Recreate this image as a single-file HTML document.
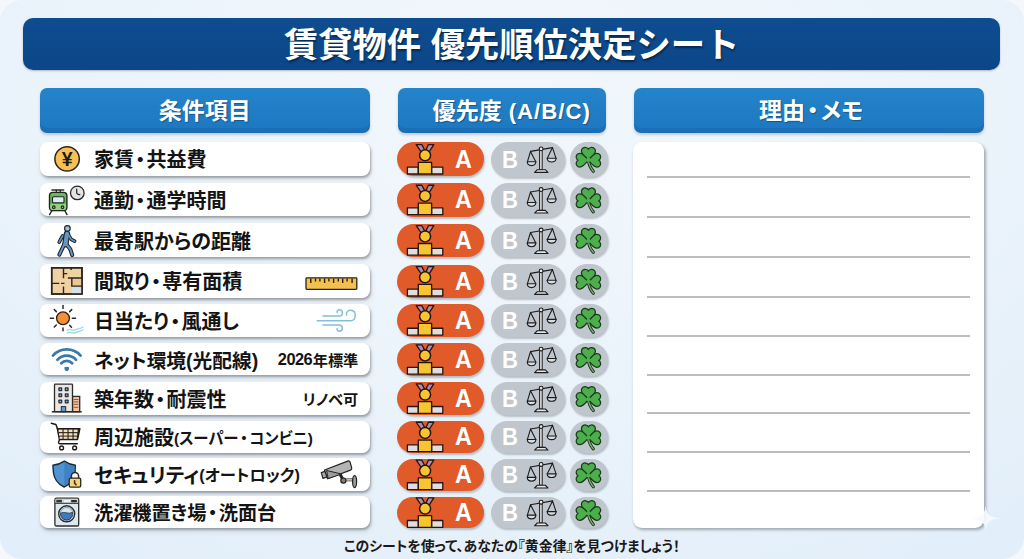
<!DOCTYPE html>
<html lang="ja">
<head>
<meta charset="utf-8">
<title>賃貸物件 優先順位決定シート</title>
<style>
*{margin:0;padding:0;box-sizing:border-box}
html,body{width:1024px;height:559px;overflow:hidden;background:#f4f7fb}
body{position:relative;font-family:"Liberation Sans","Noto Sans CJK JP",sans-serif;color:#161616}
.card{position:absolute;left:0;top:0;width:1024px;height:559px;border-radius:22px;background:radial-gradient(ellipse 80% 95% at 50% 18%,#f1f7fc 0%,#ecf4fb 50%,#e2eef9 100%)}
.title{position:absolute;left:23.3px;top:18.2px;width:976.7px;height:51.8px;border-radius:10px;background:linear-gradient(#0f4d90,#0b4688);
  box-shadow:0 1px 2px rgba(0,0,0,.25);color:#fff;font-weight:700;font-size:34.3px;line-height:55px;text-align:center;
  font-family:"Liberation Sans","Noto Sans CJK JP",sans-serif;text-shadow:1px 2px 2px rgba(0,0,0,.45)}
.hd{position:absolute;top:88px;height:44.7px;border-radius:7px;background:linear-gradient(#2484ca,#1d77c0);color:#fff;font-weight:700;
  font-size:23px;line-height:46.5px;text-align:center;font-family:"Liberation Sans","Noto Sans CJK JP",sans-serif;box-shadow:0 2px 3px rgba(0,0,0,.18),inset 0 -5px 0 rgba(0,40,100,.1);
  text-shadow:1px 1px 1px rgba(0,0,0,.3)}
.h1{left:40px;width:329.5px}
.h2{left:398px;width:208.3px;padding-left:19px;letter-spacing:0.2px}
.h3{left:633.5px;width:350px;font-feature-settings:"palt";padding-left:5px}
.row{position:absolute;left:40px;width:330.3px;border-radius:8px;background:#fff;box-shadow:1px 2px 2.5px rgba(0,0,0,.3),1px 4px 6px rgba(0,0,0,.08)}
.lbl{position:absolute;left:54px;top:0;bottom:0;display:flex;align-items:center;font-weight:700;font-size:20px;
  font-family:"Liberation Sans","Noto Sans CJK JP",sans-serif;font-feature-settings:"palt";white-space:nowrap;color:#141414}
.ex{position:absolute;right:12px;top:0;bottom:0;display:flex;align-items:center;font-weight:700;font-size:15.2px;
  font-family:"Liberation Sans","Noto Sans CJK JP",sans-serif;font-feature-settings:"palt";white-space:nowrap;color:#141414}
.pa,.pb,.pc{position:absolute;border-radius:18px;box-shadow:1px 2px 2px rgba(0,0,0,.22)}
.pa{left:397.4px;width:87px;background:#e05a2a}
.pb{left:491.4px;width:73.3px;background:#c0c6cd}
.pc{left:570.3px;width:37.5px;background:#c0c6cd}
.pa span,.pb span{position:absolute;top:0;bottom:0;display:flex;align-items:center;color:#fff;font-weight:700;
  font-family:"Liberation Sans","Noto Sans CJK JP",sans-serif}
.pa span{left:58px;font-size:25.4px;transform:scaleX(0.92);transform-origin:0 50%;top:0}
.pb span{left:11px;font-size:23.8px;transform:scaleX(0.93);transform-origin:0 50%;top:1.2px}
.memo{position:absolute;left:633px;top:142px;width:351px;height:386.2px;border-radius:9px;background:#fff;box-shadow:1.5px 2px 3px rgba(0,0,0,.3)}
.ln{position:absolute;left:14px;width:323px;height:2px;background:#bcbdbc}
.ic{position:absolute;left:0;top:0}
.foot{position:absolute;left:0;width:1024px;top:535px;text-align:center;font-size:13.9px;font-weight:700;
  font-family:"Liberation Sans","Noto Sans CJK JP",sans-serif;font-feature-settings:"palt";color:#1a1a1a}
.dt{margin:0 1.3px}
.sm{font-size:16px}
.dt2{margin:0 2.2px}
.s8{font-size:15.4px}
.s8 .dt{margin:0 1.6px}
.num{font-size:16.4px;letter-spacing:-0.5px;margin-right:0.5px}
.s9{font-size:16.3px}
.abc{letter-spacing:1px;font-size:22.2px}

</style>
</head>
<body>
<div class="card"></div>
<div class="title">賃貸物件 優先順位決定シート</div>
<div class="hd h1">条件項目</div>
<div class="hd h2">優先度 <span class="abc">(A/B/C)</span></div>
<div class="hd h3">理由<span class="dt2">・</span>メモ</div>
<div class="row" style="top:141.6px;height:34.7px"><div class="lbl" style="font-size:20px">家賃<span class="dt">・</span>共益費</div></div>
<div class="pa" style="top:142.1px;height:34.4px"><span>A</span></div><div class="pb" style="top:141.9px;height:34.7px"><span>B</span></div><div class="pc" style="top:141.9px;height:34.7px"></div>
<div class="row" style="top:182.7px;height:33.8px"><div class="lbl" style="font-size:20px">通勤<span class="dt">・</span>通学時間</div></div>
<div class="pa" style="top:183.2px;height:33.5px"><span>A</span></div><div class="pb" style="top:183.0px;height:33.8px"><span>B</span></div><div class="pc" style="top:183.0px;height:33.8px"></div>
<div class="row" style="top:223.3px;height:33.5px"><div class="lbl" style="font-size:20px">最寄駅からの距離</div></div>
<div class="pa" style="top:223.8px;height:33.2px"><span>A</span></div><div class="pb" style="top:223.6px;height:33.5px"><span>B</span></div><div class="pc" style="top:223.6px;height:33.5px"></div>
<div class="row" style="top:264.0px;height:33.9px"><div class="lbl" style="font-size:20px">間取り<span class="dt">・</span>専有面積</div></div>
<div class="pa" style="top:264.5px;height:33.6px"><span>A</span></div><div class="pb" style="top:264.3px;height:33.9px"><span>B</span></div><div class="pc" style="top:264.3px;height:33.9px"></div>
<div class="row" style="top:303.5px;height:33.0px"><div class="lbl" style="font-size:20px">日当たり<span class="dt">・</span>風通し</div></div>
<div class="pa" style="top:304.0px;height:32.7px"><span>A</span></div><div class="pb" style="top:303.8px;height:33.0px"><span>B</span></div><div class="pc" style="top:303.8px;height:33.0px"></div>
<div class="row" style="top:342.8px;height:32.7px"><div class="lbl" style="font-size:19.7px">ネット環境(光配線)</div><div class="ex"><span class="num">2026</span>年標準</div></div>
<div class="pa" style="top:343.3px;height:32.4px"><span>A</span></div><div class="pb" style="top:343.1px;height:32.7px"><span>B</span></div><div class="pc" style="top:343.1px;height:32.7px"></div>
<div class="row" style="top:381.9px;height:32.7px"><div class="lbl" style="font-size:20px">築年数<span class="dt">・</span>耐震性</div><div class="ex ex2">リノベ可</div></div>
<div class="pa" style="top:382.4px;height:32.4px"><span>A</span></div><div class="pb" style="top:382.2px;height:32.7px"><span>B</span></div><div class="pc" style="top:382.2px;height:32.7px"></div>
<div class="row" style="top:420.5px;height:32.2px"><div class="lbl" style="font-size:20px">周辺施設<span class="sm s8">(スーパー<span class="dt">・</span>コンビニ)</span></div></div>
<div class="pa" style="top:421.0px;height:31.9px"><span>A</span></div><div class="pb" style="top:420.8px;height:32.2px"><span>B</span></div><div class="pc" style="top:420.8px;height:32.2px"></div>
<div class="row" style="top:458.4px;height:32.2px"><div class="lbl" style="font-size:20px">セキュリティ<span class="sm s9">(オートロック)</span></div></div>
<div class="pa" style="top:458.9px;height:31.9px"><span>A</span></div><div class="pb" style="top:458.7px;height:32.2px"><span>B</span></div><div class="pc" style="top:458.7px;height:32.2px"></div>
<div class="row" style="top:496.3px;height:31.9px"><div class="lbl" style="font-size:19.2px">洗濯機置き場<span class="dt">・</span>洗面台</div></div>
<div class="pa" style="top:496.8px;height:31.6px"><span>A</span></div><div class="pb" style="top:496.6px;height:31.9px"><span>B</span></div><div class="pc" style="top:496.6px;height:31.9px"></div>
<div class="memo">
<div class="ln" style="top:34px"></div>
<div class="ln" style="top:74px"></div>
<div class="ln" style="top:114px"></div>
<div class="ln" style="top:154px"></div>
<div class="ln" style="top:193px"></div>
<div class="ln" style="top:232px"></div>
<div class="ln" style="top:270px"></div>
<div class="ln" style="top:309px"></div>
<div class="ln" style="top:348px"></div>
</div>
<svg class="ic" width="1024" height="559" viewBox="0 0 1024 559">
<defs>
<g id="medal" stroke="#2b1410" stroke-width="1.3" stroke-linejoin="round">
  <polygon points="416.2,144.6 421.8,144.6 424.8,150.2 421.6,152.4" fill="#a890b5"/>
  <polygon points="428.4,144.6 433.8,144.6 428.8,152.4 425.8,150.2" fill="#a890b5"/>
  <circle cx="425.1" cy="155.3" r="5.5" fill="#f6c530" stroke-width="1.5"/>
  <rect x="407.4" y="167.2" width="10.9" height="6.8" fill="#dedede"/>
  <rect x="431.6" y="167.2" width="11.2" height="6.8" fill="#dedede"/>
  <rect x="418.3" y="162.4" width="13.3" height="11.6" fill="#f6c530"/>
</g>
<g id="scale" stroke="#1c1c1c" stroke-width="1.1" fill="none" stroke-linejoin="round" stroke-linecap="round">
  <line x1="530.5" y1="151.4" x2="552.5" y2="147.6"/>
  <rect x="540" y="150.5" width="2.2" height="19.2" fill="#e2e4e7" stroke-width="1"/>
  <path d="M537.3,169.7 L545.3,169.7 L548,172.4 L534.6,172.4 Z" fill="#e2e4e7"/>
  <circle cx="541.1" cy="148.9" r="1.9" fill="#e8e8e8"/>
  <path d="M530.5,151.4 L527.4,161.8 M530.5,151.4 L535.8,161.8"/>
  <path d="M527.2,161.8 L535.9,161.8 Q535.5,165.6 531.55,165.6 Q527.6,165.6 527.2,161.8 Z" fill="#d8dbe0"/>
  <path d="M552.5,147.6 L547.3,158.3 M552.5,147.6 L556,158.3"/>
  <path d="M547.1,158.3 L556.2,158.3 Q555.8,162 551.65,162 Q547.5,162 547.1,158.3 Z" fill="#d8dbe0"/>
</g>
<g id="clover" stroke-linejoin="round">
  <path d="M588.4,160 Q589.2,166.5 593.3,171.2" fill="none" stroke="#1b3a1b" stroke-width="3.2" stroke-linecap="round"/>
  <path d="M588.4,160 Q589.2,166.5 593.3,171.2" fill="none" stroke="#7fae78" stroke-width="1.3" stroke-linecap="round"/>
  <g fill="#4cae4c" stroke="#1b3a1b" stroke-width="1.2">
    <path transform="translate(588.4,159.8) scale(1.06)" d="M0,0 C-3,-2.6 -6.6,-5 -6.6,-8.2 C-6.6,-11 -4,-12.2 -2.2,-11.6 C-1,-11.3 -0.3,-10.6 0,-9.9 C0.3,-10.6 1,-11.3 2.2,-11.6 C4,-12.2 6.6,-11 6.6,-8.2 C6.6,-5 3,-2.6 0,0 Z"/>
    <path transform="translate(588.4,160.2) rotate(-90) scale(1.04)" d="M0,0 C-3,-2.6 -6.6,-5 -6.6,-8.2 C-6.6,-11 -4,-12.2 -2.2,-11.6 C-1,-11.3 -0.3,-10.6 0,-9.9 C0.3,-10.6 1,-11.3 2.2,-11.6 C4,-12.2 6.6,-11 6.6,-8.2 C6.6,-5 3,-2.6 0,0 Z"/>
    <path transform="translate(588.4,160.2) rotate(90) scale(1.04)" d="M0,0 C-3,-2.6 -6.6,-5 -6.6,-8.2 C-6.6,-11 -4,-12.2 -2.2,-11.6 C-1,-11.3 -0.3,-10.6 0,-9.9 C0.3,-10.6 1,-11.3 2.2,-11.6 C4,-12.2 6.6,-11 6.6,-8.2 C6.6,-5 3,-2.6 0,0 Z"/>
  </g>
  <g fill="#4cae4c" stroke="none">
    <circle cx="588.4" cy="159.8" r="2.2"/>
  </g>
</g>
</defs>
<g id="yen">
  <circle cx="67.1" cy="158.9" r="12.2" fill="#f6c152" stroke="#2a2420" stroke-width="1.5"/>
  <text x="67.2" y="166.2" font-family="Liberation Sans, sans-serif" font-size="19.5" font-weight="700" text-anchor="middle" fill="#1e1a16">¥</text>
</g>
<g id="train" stroke="#1d261d" stroke-linecap="round" stroke-linejoin="round">
  <line x1="51.9" y1="189.9" x2="63.7" y2="189.9" stroke-width="1.5" stroke="#333"/>
  <line x1="56.3" y1="190" x2="56.3" y2="192.3" stroke-width="1.2"/>
  <line x1="60.2" y1="190" x2="60.2" y2="192.3" stroke-width="1.2"/>
  <line x1="51.9" y1="210.5" x2="49.6" y2="214.6" stroke-width="1.4"/>
  <line x1="64.7" y1="210.5" x2="67" y2="214.6" stroke-width="1.4"/>
  <rect x="49.5" y="192.4" width="17.4" height="18.3" rx="3.4" fill="#6cb65c" stroke-width="1.4"/>
  <rect x="50.3" y="203.5" width="15.8" height="6.5" rx="2" fill="#92d47c" stroke="none"/>
  <rect x="52.5" y="196.7" width="11.5" height="6.2" rx="1" fill="#d9edf7" stroke-width="1.1"/>
  <circle cx="53.8" cy="207.2" r="1.3" fill="#92d47c" stroke-width="1.1"/>
  <circle cx="62.5" cy="207.2" r="1.3" fill="#92d47c" stroke-width="1.1"/>
  <line x1="53.2" y1="211.6" x2="63.6" y2="211.6" stroke="#c8c8c8" stroke-width="1"/>
</g>
<g id="clock">
  <circle cx="77.3" cy="192.9" r="6.8" fill="#e4e4e4" stroke="#2a2a2a" stroke-width="1.3"/>
  <path d="M76.7,189 L76.7,192.8 Q76.9,194.7 79.8,194.7" fill="none" stroke="#222" stroke-width="1.2" stroke-linecap="round"/>
</g>
<g id="walker" fill="none" stroke-linecap="round" stroke-linejoin="round">
  <g stroke="#1c2530">
    <path d="M62.6,235.8 L59.2,242.2" stroke-width="3.6"/>
    <path d="M68.6,235.3 L71.2,239.4 L74.6,241.2" stroke-width="3.6"/>
    <path d="M64.1,244.6 L59.4,254.6" stroke-width="4"/>
    <path d="M66.6,244.6 L70.2,249 L72.2,255" stroke-width="4"/>
    <path d="M67,233.8 L65.4,244.2" stroke-width="6.4"/>
  </g>
  <g stroke="#6596bf">
    <path d="M62.6,235.8 L59.2,242.2" stroke-width="1.6"/>
    <path d="M68.6,235.3 L71.2,239.4 L74.6,241.2" stroke-width="1.6"/>
    <path d="M64.1,244.6 L59.4,254.6" stroke-width="2"/>
    <path d="M66.6,244.6 L70.2,249 L72.2,255" stroke-width="2"/>
    <path d="M67,233.8 L65.4,244.2" stroke-width="4.2"/>
  </g>
  <circle cx="67.4" cy="228.4" r="2.8" fill="#a8c4d8" stroke="#1c2530" stroke-width="1.2"/>
</g>
<g id="plan" stroke="#2a2520" stroke-width="1.4" stroke-linecap="square">
  <rect x="51.7" y="267.8" width="30.3" height="26.2" fill="#efd1a2"/>
  <rect x="71.8" y="278" width="10.2" height="8.1" fill="#ebc891" stroke="none"/>
  <rect x="71.8" y="286.1" width="10.2" height="7.9" fill="#d3e2ea" stroke="none"/>
  <rect x="51.7" y="267.8" width="30.3" height="26.2" fill="none" stroke-width="1.6"/>
  <path d="M63.5,267.8 L63.5,277.6 M63.5,273.6 L66.6,273.6 M68.6,278 L82,278 M71.8,278 L71.8,286.1 L82,286.1 M51.7,283.4 L58.6,283.4 M61.8,283.4 L63.8,283.4 M63.5,287.3 L63.5,294 M71.1,267.8 L71.1,269.3" fill="none"/>
</g>
<g id="sun">
  <g stroke="#2a2a2a" stroke-width="1.5" stroke-linecap="round">
    <line x1="63" y1="305.6" x2="63" y2="308.6"/>
    <line x1="63" y1="327.9" x2="63" y2="330.7"/>
    <line x1="50.3" y1="318.3" x2="53.5" y2="318.3"/>
    <line x1="72.4" y1="318.3" x2="75.5" y2="318.3"/>
    <line x1="54.3" y1="309.6" x2="56.3" y2="311.6"/>
    <line x1="71.7" y1="309.6" x2="69.7" y2="311.6"/>
    <line x1="54.3" y1="327" x2="56.3" y2="325"/>
    <line x1="71.5" y1="327.2" x2="69.6" y2="325.2"/>
  </g>
  <circle cx="63" cy="318.3" r="6.4" fill="#f0913a" stroke="#3a1a0a" stroke-width="1.3"/>
  <path d="M67.4,330.2 C70,327.6 72.5,331.6 75.4,329.8 C78.2,328 80.2,329.2 83,327 M67.4,333 C70,330.4 72.5,334.4 75.4,332.6 C78.2,330.8 80.2,332 83,329.8" fill="none" stroke="#9ad8e4" stroke-width="1.3" stroke-linecap="round"/>
</g>
<g id="wifi" fill="none" stroke="#3a7aab" stroke-width="2.7" stroke-linecap="round">
  <path d="M61.3,363.2 A7.5,7.5 0 0 1 72.2,363.2"/>
  <path d="M57.4,359.8 A12.6,12.6 0 0 1 76.1,359.8"/>
  <path d="M52.9,355.6 A18.7,18.7 0 0 1 80.6,355.6"/>
  <path d="M64.4,367.2 Q66.75,366.2 69.1,367.2 Q69.3,370.6 66.75,371.2 Q64.2,370.6 64.4,367.2 Z" fill="#3a7aab" stroke="none"/>
</g>
<g id="bldg" stroke="#2e2a28" stroke-width="1.3">
  <rect x="72.5" y="396.4" width="7.2" height="15.3" fill="#f2c3a2"/>
  <path d="M73.8,399.5 H78.4 M73.8,401.9 H78.4 M73.8,404.3 H78.4 M73.8,407.3 H78.4" stroke="#8a5a40" stroke-width="1"/>
  <rect x="54.5" y="384.2" width="18" height="27.5" rx="0.8" fill="#ece6de"/>
  <g fill="#25364a" stroke="none">
    <rect x="58.3" y="387.2" width="4" height="4" rx="0.8"/><rect x="64.7" y="387.2" width="4" height="4" rx="0.8"/>
    <rect x="58.3" y="393.3" width="4" height="4" rx="0.8"/><rect x="64.7" y="393.3" width="4" height="4" rx="0.8"/>
    <rect x="58.3" y="399.5" width="4" height="4" rx="0.8"/><rect x="64.7" y="399.5" width="4" height="4" rx="0.8"/>
  </g>
  <g fill="#9cc8e8" stroke="none">
    <circle cx="60.3" cy="389.2" r="0.7"/><circle cx="66.7" cy="389.2" r="0.7"/>
    <circle cx="60.3" cy="395.3" r="0.7"/><circle cx="66.7" cy="395.3" r="0.7"/>
    <circle cx="60.3" cy="401.5" r="0.7"/><circle cx="66.7" cy="401.5" r="0.7"/>
  </g>
  <rect x="61.3" y="406.6" width="4.4" height="5.1" fill="#5c9fd4" stroke-width="1"/>
  <line x1="51.8" y1="411.8" x2="81.7" y2="411.8" stroke-width="1.5"/>
</g>
<g id="cart" stroke="#1e1a18" stroke-linecap="round" stroke-linejoin="round" fill="none">
  <path d="M51.3,423.3 L55.9,424.4 L57.4,428.6" stroke-width="1.5"/>
  <path d="M57.2,428.6 L80,428.6 L77.6,439.6 L59.3,439.6 Z" fill="#2a2018" stroke-width="1.2"/>
  <g fill="#f3e2c0" stroke="none">
    <rect x="58.6" y="429.6" width="3.9" height="2.5"/><rect x="63.6" y="429.6" width="3.9" height="2.5"/><rect x="68.6" y="429.6" width="3.9" height="2.5"/><rect x="73.6" y="429.6" width="4" height="2.5"/>
    <rect x="59" y="433.2" width="3.6" height="2.4"/><rect x="63.6" y="433.2" width="3.9" height="2.4"/><rect x="68.6" y="433.2" width="3.9" height="2.4"/><rect x="73.6" y="433.2" width="3.6" height="2.4"/>
    <rect x="59.6" y="436.6" width="3" height="2.2"/><rect x="63.6" y="436.6" width="3.9" height="2.2"/><rect x="68.6" y="436.6" width="3.9" height="2.2"/><rect x="73.6" y="436.6" width="3.2" height="2.2"/>
  </g>
  <path d="M59.6,439.6 L58.6,442 Q58.4,443.8 60.2,443.8 L77.3,443.8" stroke-width="1.4"/>
  <circle cx="61.6" cy="447.9" r="1.9" fill="#fff" stroke-width="1.4"/>
  <circle cx="74.6" cy="447.9" r="1.9" fill="#fff" stroke-width="1.4"/>
</g>
<g id="shield" stroke-linejoin="round">
  <path d="M64.4,461.1 C60.5,463.6 56.5,465 52.9,465.3 L53.4,472.5 C54.2,479.2 58.2,484.2 64.1,487 C70,484.2 74.4,479.2 75.1,472.5 L75.3,465.3 C71.8,465 68,463.6 64.4,461.1 Z" fill="#4f93d3" stroke="#1b2838" stroke-width="1.4"/>
  <path d="M64.4,462 L64.2,486 C69.6,483.3 73.8,478.7 74.4,472.5 L74.6,466 C71.2,465.6 67.8,464.3 64.4,462 Z" fill="#3f83c4"/>
  <path d="M71.4,478.4 L71.4,476.2 A3.6,3.6 0 0 1 78.6,476.2 L78.6,478.4 Z" fill="#fff" stroke="none"/>
  <path d="M71.4,478.4 L71.4,476.2 A3.6,3.6 0 0 1 78.6,476.2 L78.6,478.4" fill="none" stroke="#2a2a2a" stroke-width="1.5"/>
  <rect x="69.2" y="478.1" width="11.5" height="9.1" rx="1.4" fill="#f6d47a" stroke="#2a2520" stroke-width="1.3"/>
  <path d="M74.6,480.8 L74.6,483.2 L76,484.6" fill="none" stroke="#4a2a10" stroke-width="1.6" stroke-linecap="round"/>
</g>
<g id="washer" stroke="#2a2a2a">
  <rect x="54.9" y="498.2" width="23.8" height="27.8" rx="1.6" fill="#dde9ef" stroke-width="1.3"/>
  <rect x="55.5" y="498.8" width="22.6" height="4.4" fill="#c9d5dc" stroke="none"/>
  <line x1="55" y1="503.3" x2="78.6" y2="503.3" stroke-width="1"/>
  <rect x="56.3" y="499.8" width="5.6" height="2.6" fill="#3a3430" stroke="none"/>
  <rect x="64" y="500" width="6" height="2.2" fill="#eef2f4" stroke="none"/>
  <rect x="71.2" y="500" width="5.6" height="2.2" fill="#2a2a2a" stroke="none"/>
  <circle cx="66.7" cy="513.8" r="8" fill="#eef4f7" stroke-width="1.4"/>
  <circle cx="66.7" cy="513.8" r="6.4" fill="#d8e6ee" stroke="#7a8a94" stroke-width="0.9"/>
  <path d="M60.4,513.3 Q63,511.8 66,512.8 Q69.5,513.8 72.6,512.3 Q73,517 69.8,519.2 Q66.7,520.8 63.6,519.3 Q60.6,517.3 60.4,513.3 Z" fill="#3d7dbd" stroke="#22344a" stroke-width="0.8"/>
</g>
<g id="ruler" stroke="#2a2218">
  <rect x="306" y="277.8" width="50.8" height="11.5" rx="0.8" fill="#f5c14e" stroke-width="1.3"/>
  <path d="M310.8,278.5 V283 M315.5,278.5 V281.6 M319.9,278.5 V281.4 M324.6,278.5 V283 M328.9,278.5 V281.4 M333.6,278.5 V283 M338.3,278.5 V281.4 M342.7,278.5 V283 M347.1,278.5 V281.4 M352.1,278.5 V283" stroke-width="1.4"/>
</g>
<g id="wind" fill="none" stroke="#84bfd8" stroke-width="1.5" stroke-linecap="round">
  <path d="M322.9,316.1 L339.5,316.1 C343,316.1 343.5,310.5 340,309.8 C338,309.4 336.6,311 337.2,312.6"/>
  <path d="M317.3,320.7 L350.5,320.7 C356.5,320.7 357,311 351,310.3 C347.5,310 345.8,312.8 346.6,315"/>
  <path d="M322.9,324.9 L339.5,324.9 C343,324.9 343.5,330.5 340,331.2 C338,331.6 336.6,330 337.2,328.4"/>
</g>
<g id="camera" stroke="#222" stroke-width="1.2" stroke-linejoin="round">
  <path d="M346.4,479.8 L352.5,479.8" stroke="#6f6358" stroke-width="3.2"/>
  <path d="M346.4,479.8 L352.5,479.8" stroke="#cfc7bd" stroke-width="1.4"/>
  <ellipse cx="354.6" cy="481.6" rx="2" ry="6" fill="#9a9a9a"/>
  <path d="M340.3,474.5 L343.3,480.5" stroke-width="3"/>
  <circle cx="343.4" cy="480.6" r="2.6" fill="#8c7b6a"/>
  <path d="M321.3,472.6 L326.6,470.7 L328.4,476.5 L322.9,478.4 Z" fill="#a8a8a8"/>
  <path d="M324.5,470 L347.7,461.1 Q349.5,460.5 350.1,462.2 L351.7,467.8 Q352.1,469.5 350.5,470.1 L327.5,478.8 Z" fill="#b4b4b4"/>
  <path d="M326.6,470.5 L341.5,474 L328.2,478.6 Z" fill="#9c9c9c" stroke-width="1"/>
</g>


<use href="#medal" y="0.00"/><use href="#scale" y="0.00"/><use href="#clover" y="0.00"/>
<use href="#medal" y="40.65"/><use href="#scale" y="40.65"/><use href="#clover" y="40.65"/>
<use href="#medal" y="81.10"/><use href="#scale" y="81.10"/><use href="#clover" y="81.10"/>
<use href="#medal" y="122.00"/><use href="#scale" y="122.00"/><use href="#clover" y="122.00"/>
<use href="#medal" y="161.05"/><use href="#scale" y="161.05"/><use href="#clover" y="161.05"/>
<use href="#medal" y="200.20"/><use href="#scale" y="200.20"/><use href="#clover" y="200.20"/>
<use href="#medal" y="239.30"/><use href="#scale" y="239.30"/><use href="#clover" y="239.30"/>
<use href="#medal" y="277.65"/><use href="#scale" y="277.65"/><use href="#clover" y="277.65"/>
<use href="#medal" y="315.55"/><use href="#scale" y="315.55"/><use href="#clover" y="315.55"/>
<use href="#medal" y="353.30"/><use href="#scale" y="353.30"/><use href="#clover" y="353.30"/>
</svg>
<svg class="ic" width="1024" height="559" viewBox="0 0 1024 559"><path d="M985.6,505.5 C986.4,514 989,517.4 1000.8,518.2 C989,519 986.4,522.4 985.6,532 C984.8,522.4 982.2,519 970.4,518.2 C982.2,517.4 984.8,514 985.6,505.5 Z" fill="#f7fafd" opacity="0.9"/></svg>
<div class="foot">このシートを使って、あなたの『黄金律』を見つけましょう！</div>
</body>
</html>
